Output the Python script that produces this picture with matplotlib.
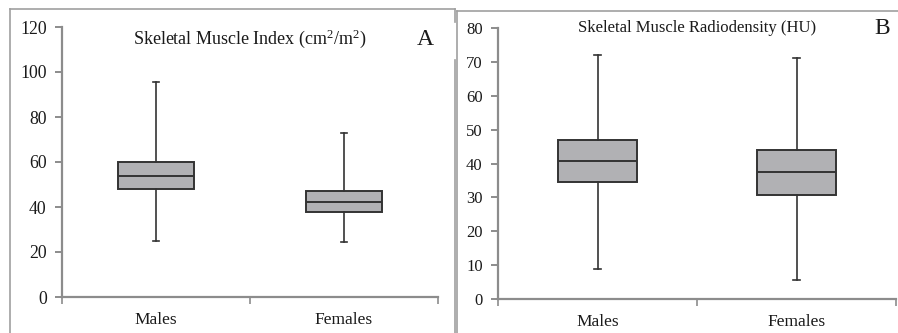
import matplotlib
matplotlib.use("Agg")
import matplotlib.pyplot as plt
from matplotlib.lines import Line2D

plt.rcParams['font.family'] = ['Liberation Serif', 'DejaVu Serif']
plt.rcParams['mathtext.default'] = 'regular'

# Gruppen
gruppen = ["Males", "Females"]

# Panel A: Skeletal Muscle Index (cm2/m2)
smi_min = [24.8, 24.3]
smi_q1 = [48.0, 37.8]
smi_med = [53.7, 42.2]
smi_q3 = [59.8, 47.2]
smi_max = [95.7, 73.0]

# Panel B: Skeletal Muscle Radiodensity (HU)
smd_min = [9.0, 5.6]
smd_q1 = [34.6, 30.6]
smd_med = [40.8, 37.4]
smd_q3 = [47.0, 44.0]
smd_max = [72.1, 71.3]

achsen_grau = "#8c8c8c"
rahmen_grau = "#a0a0a0"
box_fill = "#b1b1b4"
box_edge = "#333333"


def stats_bauen(mins, q1, med, q3, maxs):
    return [dict(whislo=a, q1=b, med=c, q3=d, whishi=e, fliers=[], label=g)
            for a, b, c, d, e, g in zip(mins, q1, med, q3, maxs, gruppen)]


def panel(ax, stats, ymax, ystep, titel, buchstabe, titel_y, fs_tick, fs_titel):
    ax.bxp(stats, positions=[1, 2], widths=0.4, capwidths=0.032,
           patch_artist=True, showfliers=False,
           boxprops=dict(facecolor=box_fill, edgecolor=box_edge, linewidth=1.4),
           medianprops=dict(color=box_edge, linewidth=1.4),
           whiskerprops=dict(color=box_edge, linewidth=1.2),
           capprops=dict(color=box_edge, linewidth=1.2))
    ax.set_xlim(0.5, 2.5)
    ax.set_ylim(0, ymax)
    ax.set_yticks(range(0, ymax + 1, ystep))
    ax.set_xticks([1, 2])
    ax.set_xticklabels(gruppen)
    ax.set_xticks([0.5, 1.5, 2.5], minor=True)
    for s in ["top", "right"]:
        ax.spines[s].set_visible(False)
    for s in ["left", "bottom"]:
        ax.spines[s].set_color(achsen_grau)
        ax.spines[s].set_linewidth(1.6)
    ax.tick_params(axis="y", direction="out", length=5, width=1.4,
                   color=achsen_grau, pad=6, labelsize=fs_tick, labelcolor="#1a1a1a")
    ax.tick_params(axis="x", which="major", length=0, pad=11,
                   labelsize=12.5, labelcolor="#1a1a1a")
    ax.tick_params(axis="x", which="minor", direction="out", length=5,
                   width=1.2, color=achsen_grau)
    ax.text(0.5, titel_y, titel, transform=ax.transAxes, ha="center",
            va="center", fontsize=fs_titel, color="#1a1a1a")
    ax.text(0.965, titel_y, buchstabe, transform=ax.transAxes, ha="center",
            va="center", fontsize=17, color="#1a1a1a")


fig = plt.figure(figsize=(8.98, 3.33), dpi=100)

ax_a = fig.add_axes([62 / 898, 1 - 297 / 333, (438 - 62) / 898, (297 - 27) / 333])
panel(ax_a, stats_bauen(smi_min, smi_q1, smi_med, smi_q3, smi_max), 120, 20,
      r"Skeletal Muscle Index (cm$^{2}$/m$^{2}$)", "A", 0.955, 12.8, 13)

ax_b = fig.add_axes([498 / 898, 1 - 299 / 333, (896 - 498) / 898, (299 - 28.3) / 333])
panel(ax_b, stats_bauen(smd_min, smd_q1, smd_med, smd_q3, smd_max), 80, 10,
      "Skeletal Muscle Radiodensity (HU)", "B", 1.0, 12, 12)


# Rahmen der beiden Felder
def linie(x0, y0, x1, y1):
    fig.add_artist(Line2D([x0 / 898, x1 / 898], [1 - y0 / 333, 1 - y1 / 333],
                          color=rahmen_grau, linewidth=1.2))

linie(10, 9, 455, 9)
linie(10, 9, 10, 333)
linie(455, 9, 455, 22)
linie(455, 60, 455, 333)
linie(457, 11, 898, 11)
linie(457, 11, 457, 333)

fig.savefig("out.png", dpi=100)
